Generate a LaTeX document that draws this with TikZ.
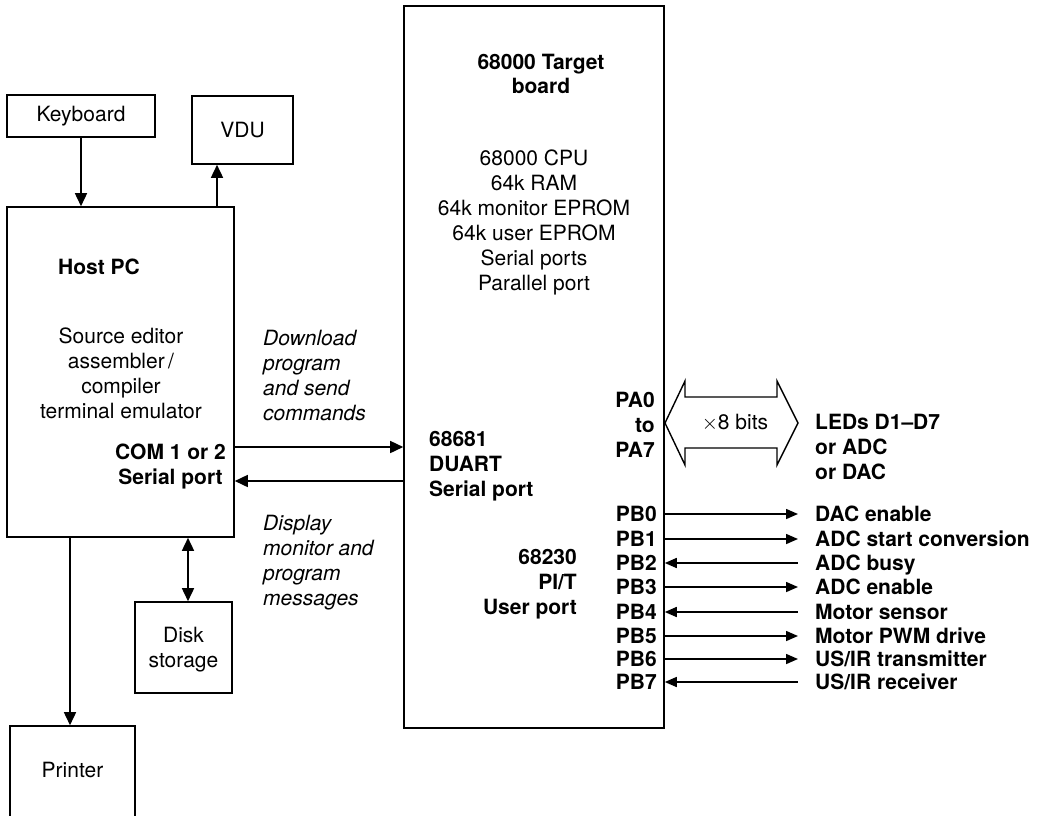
\documentclass[tikz,border=0pt]{standalone}
\usepackage{fontspec}
\setmainfont{TeX Gyre Heros}
\usetikzlibrary{arrows.meta}
\begin{document}
\begin{tikzpicture}[x=1pt,y=-1pt,
  every node/.style={font=\fontsize{21}{25}\selectfont, inner sep=0pt},
  bf/.style={font=\fontsize{21}{25}\selectfont\bfseries},
  it/.style={font=\fontsize{21}{25}\selectfont\itshape},
  box/.style={draw, line width=1.6pt},
  lbl/.style={text height=15pt, text depth=0pt},
  ml/.style={text depth=0pt},
  arr/.style={line width=1.6pt, -{Triangle[length=13pt,width=12pt]}},
  arrB/.style={line width=1.6pt, {Triangle[length=13pt,width=12pt]}-{Triangle[length=13pt,width=12pt]}},
  arrR/.style={line width=1.6pt, -{Triangle[length=12pt,width=10pt]}},
  arrL/.style={line width=1.6pt, {Triangle[length=12pt,width=10pt]}-},
]
\useasboundingbox (0,0) rectangle (1039,815);

% boxes
\node[box, minimum width=148pt, minimum height=42pt] (kbd) at (81,116) {Keyboard};
\node[box, minimum width=101pt, minimum height=68pt] (vdu) at (242.5,130) {VDU};
\node[box, minimum width=227pt, minimum height=330pt] (host) at (120.5,372) {};
\node[box, minimum width=97pt, minimum height=91pt, align=center, text depth=0pt] (disk) at (183.5,647.5) {Disk\\storage};
\node[box, minimum width=125pt, minimum height=110pt] (printer) at (72.5,781) {};
\node (printertxt) at (72.5,770) {Printer};
\node[box, minimum width=260pt, minimum height=722pt] (target) at (534,367) {};

% host texts
\node[bf, lbl, anchor=west] (hosttitle) at (58,267) {Host PC};
\node[ml, align=center] (hostsw) at (121,373) {Source editor\\assembler\,/\\compiler\\terminal emulator};
\node[bf, ml, align=center] (com) at (170.5,464.5) {COM 1 or 2\\Serial port};
\node[it, ml, align=left, anchor=west] (dl) at (263,375.5) {Download\\program\\and send\\commands};
\node[it, ml, align=left, anchor=west] (disp) at (263,560.5) {Display\\monitor and\\program\\messages};

% target texts
\node[ml, align=center, font=\fontsize{21}{23.5}\selectfont\bfseries] (ttitle) at (541,74) {68000 Target\\board};
\node[ml, align=center] (tcomp) at (534,220) {68000 CPU\\64k RAM\\64k monitor EPROM\\64k user EPROM\\Serial ports\\Parallel port};
\node[bf, ml, align=left, anchor=west] (duart) at (429,464) {68681\\DUART\\Serial port};
\node[bf, ml, align=right, anchor=east] (pit) at (577,581.5) {68230\\PI/T\\User port};
\node[bf, ml, align=right, anchor=east] (pa) at (655,425) {PA0\\to\\PA7};
\node[bf, ml, align=left, anchor=west] (leds) at (815,446.5) {LEDs D1–D7\\or ADC\\or DAC};

% double arrow (x8 bits bus)
\draw[line width=1.4pt, line join=miter] (665,423) -- (685,381) -- (685,397) -- (777,397) -- (777,381) -- (798,423) -- (777,465) -- (777,448) -- (685,448) -- (685,465) -- cycle;
\node (bits) at (735,423) {$\times$8 bits};

% connectors
\draw[arr] (kbd.south) -- (kbd.south |- host.north);
\draw[arr] ([xshift=-25.5pt]vdu.south |- host.north) -- ([xshift=-25.5pt]vdu.south);
\draw[arrB] ([xshift=4.5pt]disk.north |- host.south) -- ([xshift=4.5pt]disk.north);
\draw[arr] ([xshift=-2.5pt]printer.north |- host.south) -- ([xshift=-2.5pt]printer.north);
\draw[arr] ([yshift=-75pt]host.east) -- ([yshift=-75pt]host.east -| target.west);
\draw[arr] ([yshift=-109pt]host.east -| target.west) -- ([yshift=-109pt]host.east);

% port B lines
\node[bf, lbl, anchor=east] (pb0) at (657,514) {PB0};
\node[bf, lbl, anchor=east] (pb1) at (657,539) {PB1};
\node[bf, lbl, anchor=east] (pb2) at (657,563) {PB2};
\node[bf, lbl, anchor=east] (pb3) at (657,587) {PB3};
\node[bf, lbl, anchor=east] (pb4) at (657,612) {PB4};
\node[bf, lbl, anchor=east] (pb5) at (657,636) {PB5};
\node[bf, lbl, anchor=east] (pb6) at (657,659) {PB6};
\node[bf, lbl, anchor=east] (pb7) at (657,682) {PB7};

\node[bf, lbl, anchor=west] (s0) at (815,514) {DAC enable};
\node[bf, lbl, anchor=west] (s1) at (815,539) {ADC start conversion};
\node[bf, lbl, anchor=west] (s2) at (815,563) {ADC busy};
\node[bf, lbl, anchor=west] (s3) at (815,587) {ADC enable};
\node[bf, lbl, anchor=west] (s4) at (815,612) {Motor sensor};
\node[bf, lbl, anchor=west] (s5) at (815,636) {Motor PWM drive};
\node[bf, lbl, anchor=west] (s6) at (815,659) {US/IR transmitter};
\node[bf, lbl, anchor=west] (s7) at (815,682) {US/IR receiver};

\draw[arrR] (target.east |- s0.west) -- ([xshift=-17pt]s0.west);
\draw[arrR] (target.east |- s1.west) -- ([xshift=-17pt]s1.west);
\draw[arrL] (target.east |- s2.west) -- ([xshift=-17pt]s2.west);
\draw[arrR] (target.east |- s3.west) -- ([xshift=-17pt]s3.west);
\draw[arrL] (target.east |- s4.west) -- ([xshift=-17pt]s4.west);
\draw[arrR] (target.east |- s5.west) -- ([xshift=-17pt]s5.west);
\draw[arrR] (target.east |- s6.west) -- ([xshift=-17pt]s6.west);
\draw[arrL] (target.east |- s7.west) -- ([xshift=-17pt]s7.west);
\end{tikzpicture}
\end{document}
